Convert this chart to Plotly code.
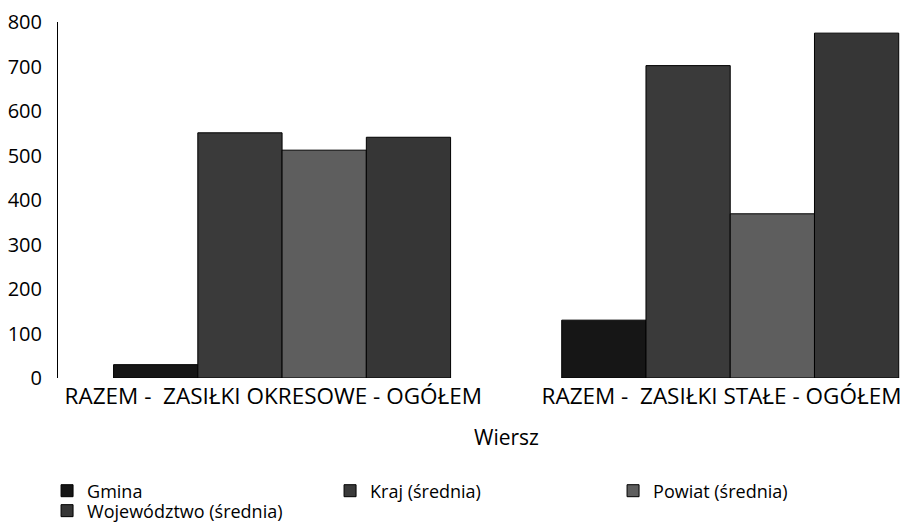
import plotly.graph_objects as go

# === Data ===
categories = ["RAZEM -\u00a0 ZASIŁKI OKRESOWE - OGÓŁEM", "RAZEM -\u00a0 ZASIŁKI STAŁE - OGÓŁEM"]
gmina = [30, 130]
kraj = [551, 702]
powiat = [512, 369]
wojewodztwo = [541, 775]

series = [
    ("Gmina", gmina, "#161616", "legend"),
    ("Kraj (średnia)", kraj, "#3a3a3a", "legend"),
    ("Powiat (średnia)", powiat, "#5e5e5e", "legend"),
    ("Województwo (średnia)", wojewodztwo, "#363636", "legend2"),
]

fig = go.Figure()
for name, vals, color, leg in series:
    fig.add_trace(go.Bar(
        x=categories, y=vals, name=name, legend=leg,
        marker=dict(color=color, line=dict(color="#000000", width=1)),
    ))

font = "Open Sans, DejaVu Sans, sans-serif"

fig.update_layout(
    width=905, height=525,
    margin=dict(l=58, r=0, t=22, b=147),
    paper_bgcolor="white", plot_bgcolor="white",
    barmode="group", bargap=0.248, bargroupgap=0,
    font=dict(family=font, color="#000000"),
    showlegend=True,
    legend=dict(
        orientation="h", xref="container", yref="container",
        x=0.052, y=0.1, xanchor="left", yanchor="top",
        entrywidth=238, entrywidthmode="pixels",
        font=dict(size=18), traceorder="normal",
        bgcolor="rgba(0,0,0,0)",
        itemclick=False, itemdoubleclick=False,
    ),
    legend2=dict(
        orientation="h", xref="container", yref="container",
        x=0.052, y=0.062, xanchor="left", yanchor="top",
        font=dict(size=18),
        bgcolor="rgba(0,0,0,0)",
        itemclick=False, itemdoubleclick=False,
    ),
    annotations=[dict(
        text="Wiersz", xref="paper", yref="paper",
        x=(506 - 58) / 847, y=-(437 - 378) / 356,
        xanchor="center", yanchor="middle", showarrow=False,
        font=dict(size=21),
    )],
)

# labels sit a little left of the bar groups in the original
fig.update_xaxes(
    range=[-0.5, 1.39], showgrid=False, zeroline=False, showline=False,
    automargin=False,
    tickmode="array", tickvals=categories,
    ticktext=[c + "\u00a0\u00a0\u00a0" for c in categories],
    ticks="", tickfont=dict(size=22.5), ticklabelstandoff=2,
)
fig.update_yaxes(
    range=[0, 800], dtick=100, showgrid=False, zeroline=False,
    showline=True, linecolor="#000000", linewidth=1, automargin=False,
    ticks="", tickfont=dict(size=20), ticklabelstandoff=11,
)

# page has a default 8px body margin; drop it so the chart sits at 0,0
fig.write_html("out.html", config={"displayModeBar": False},
               post_script="document.body.style.margin='0';")
